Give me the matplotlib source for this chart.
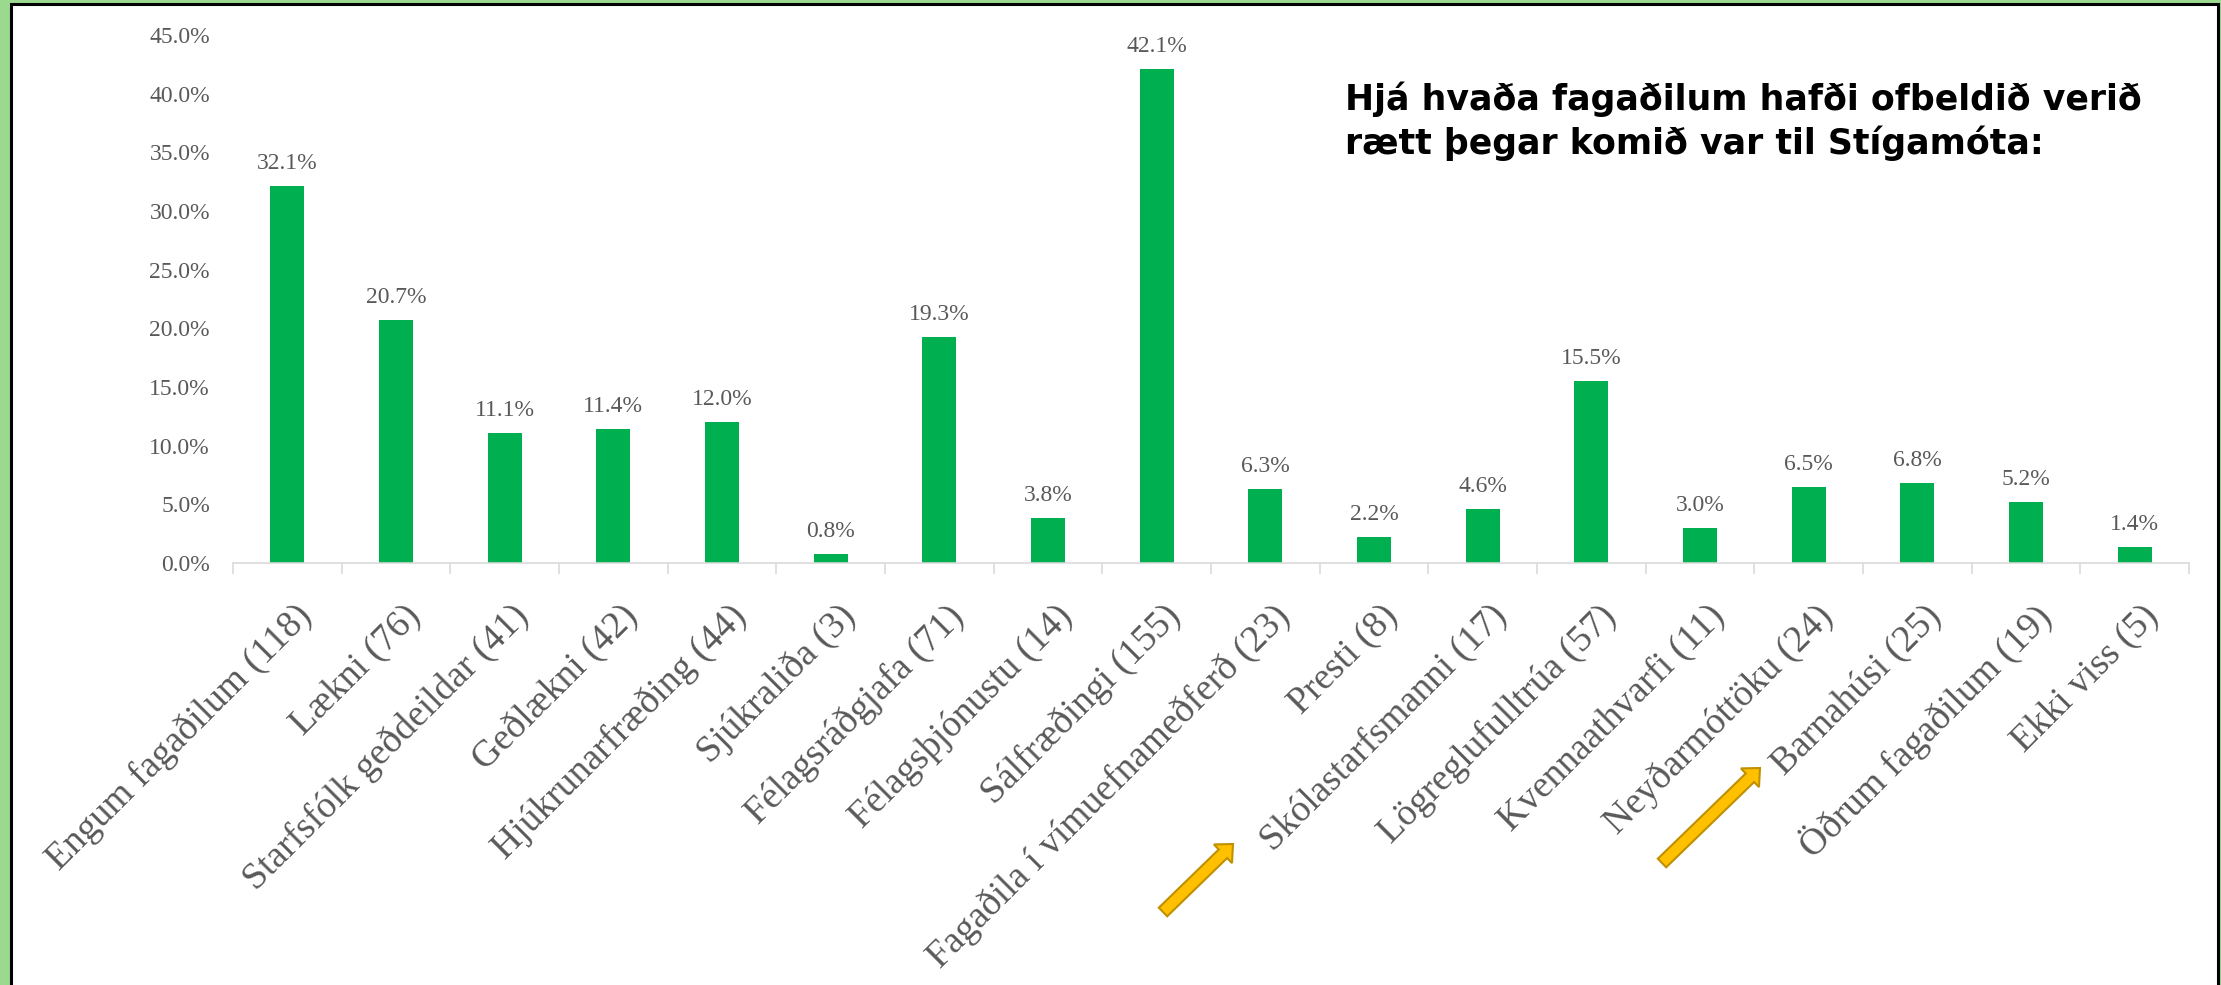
import matplotlib
matplotlib.use("Agg")
import matplotlib.pyplot as plt
from matplotlib.patches import Rectangle, FancyArrow
from matplotlib.transforms import ScaledTranslation
import numpy as np

categories = [
    "Engum fagaðilum (118)", "Lækni (76)", "Starfsfólk geðdeildar (41)",
    "Geðlækni (42)", "Hjúkrunarfræðing (44)", "Sjúkraliða (3)",
    "Félagsráðgjafa (71)", "Félagsþjónustu (14)", "Sálfræðingi (155)",
    "Fagaðila í vímuefnameðferð (23)", "Presti (8)", "Skólastarfsmanni (17)",
    "Lögreglufulltrúa (57)", "Kvennaathvarfi (11)", "Neyðarmóttöku (24)",
    "Barnahúsi (25)", "Öðrum fagaðilum (19)", "Ekki viss (5)",
]
values = [32.1, 20.7, 11.1, 11.4, 12.0, 0.8, 19.3, 3.8, 42.1,
          6.3, 2.2, 4.6, 15.5, 3.0, 6.5, 6.8, 5.2, 1.4]
yticks = [0, 5, 10, 15, 20, 25, 30, 35, 40, 45]
title_lines = ["Hjá hvaða fagaðilum hafði ofbeldið verið",
               "rætt þegar komið var til Stígamóta:"]

W, H, DPI = 2221, 985, 100
PT = 72 / DPI  # points per pixel
fig = plt.figure(figsize=(W / DPI, H / DPI), dpi=DPI)
fig.patch.set_facecolor("#9ad98e")

# white panel with black frame
panel = Rectangle((11 / W, -20 / H), (2218 - 11) / W, (H - 4 + 20) / H,
                  transform=fig.transFigure, facecolor="white",
                  edgecolor="black", linewidth=2.2, zorder=-5)
fig.patches.append(panel)

ax = fig.add_axes([233 / W, (H - 563) / H, (2189 - 233) / W, (563 - 35) / H])
ax.set_facecolor("none")
ax.set_zorder(1)

serif = "Liberation Serif"
gray = "#595959"
x = np.arange(len(categories))
ax.bar(x, values, width=0.31, color="#00b050", zorder=2)

ax.set_xlim(-0.5, len(categories) - 0.5)
ax.set_ylim(0, 45)
ax.set_yticks(yticks)
ax.set_yticklabels([f"{v:.1f}%" for v in yticks], fontfamily=serif,
                   fontsize=17, color=gray)
ax.tick_params(axis="y", length=0, pad=23 * PT)

for s in ["top", "right", "left"]:
    ax.spines[s].set_visible(False)
ax.spines["bottom"].set_color("#d9d9d9")
ax.spines["bottom"].set_linewidth(1.6 * PT)

ax.set_xticks(np.arange(len(categories) + 1) - 0.5)
ax.set_xticklabels([])
ax.tick_params(axis="x", length=11 * PT, width=1.6 * PT, color="#d9d9d9",
               direction="out")

# data labels
for xi, v in zip(x, values):
    ax.annotate(f"{v:.1f}%", (xi, v), xytext=(0, 17 * PT), textcoords="offset points",
                ha="center", va="baseline", fontfamily=serif, fontsize=17,
                color=gray, annotation_clip=False)

# rotated category labels
trans = ax.get_xaxis_transform() + ScaledTranslation(19 / DPI, -48 / DPI, fig.dpi_scale_trans)
for xi, lab in zip(x, categories):
    ax.text(xi, 0, lab, transform=trans, rotation=45, rotation_mode="anchor",
            ha="right", va="center", fontfamily=serif, fontsize=27, color=gray,
            clip_on=False)

# title (two lines, baselines placed explicitly)
for line, base in zip(title_lines, [110, 154]):
    fig.text(1345 / W, 1 - base / H, line, ha="left", va="baseline", fontsize=25,
             fontweight="bold", fontfamily="DejaVu Sans", color="black")

# arrows (figure pixel coordinates)
for (tx, ty), (hx, hy) in [((1163, 912), (1233, 844)), ((1662, 863), (1760, 768))]:
    x0, y0 = tx, H - ty
    x1, y1 = hx, H - hy
    arr = FancyArrow(x0, y0, x1 - x0, y1 - y0, width=12, head_width=26,
                     head_length=14, length_includes_head=True,
                     facecolor="#ffc000", edgecolor="#bf9000", linewidth=1.5,
                     transform=None, zorder=5)
    fig.patches.append(arr)

fig.savefig("out.png", dpi=DPI, facecolor=fig.get_facecolor())
